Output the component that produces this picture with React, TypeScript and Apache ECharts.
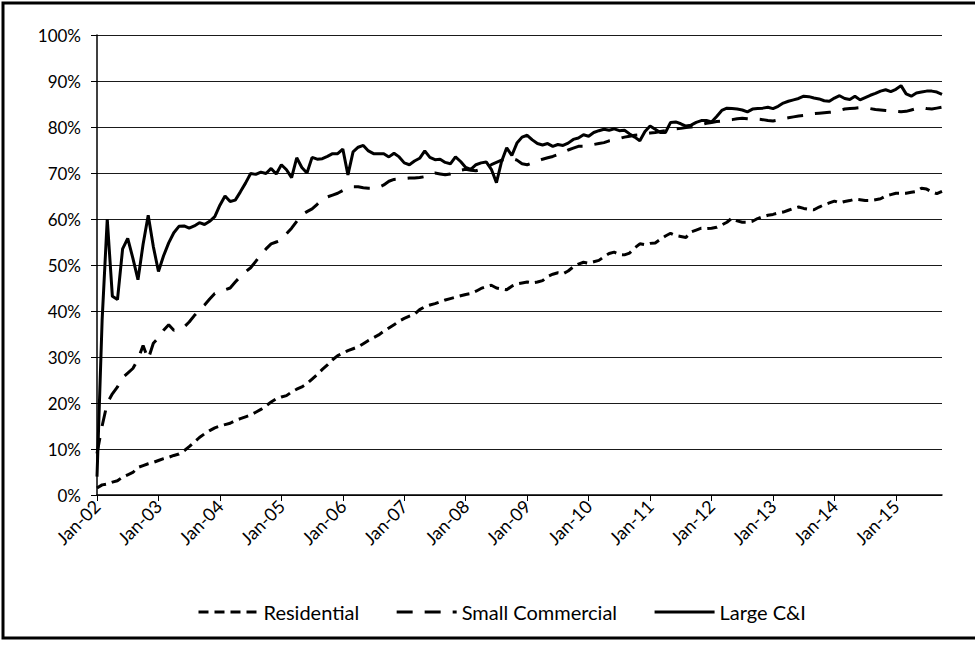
import React, { useEffect, useRef } from "react";
import * as echarts from "echarts";

// Month labels: Jan-02 ... Oct-15 (monthly)
const yearLabels = ["02", "03", "04", "05", "06", "07", "08", "09", "10", "11", "12", "13", "14", "15"];
const monthLabels = ["Jan", "Feb", "Mar", "Apr", "May", "Jun", "Jul", "Aug", "Sep", "Oct", "Nov", "Dec"];
const lastYearMonthCount = 10; // data runs through Oct-15

const categories: string[] = [];
yearLabels.forEach((y, yi) => {
  const n = yi === yearLabels.length - 1 ? lastYearMonthCount : 12;
  for (let m = 0; m < n; m++) categories.push(`${monthLabels[m]}-${y}`);
});

const seriesNames = ["Residential", "Small Commercial", "Large C&I"];

// Percent values
const residential = [
  1.5, 2.2, 2.4, 2.8, 3.1, 3.9, 4.4, 4.9, 6.0, 6.4,
  6.8, 7.1, 7.5, 7.9, 8.2, 8.6, 8.9, 9.6, 10.5, 11.5,
  12.5, 13.3, 14.0, 14.6, 15.0, 15.3, 15.6, 16.2, 16.6, 17.0,
  17.4, 18.0, 18.6, 19.4, 20.2, 20.9, 21.3, 21.6, 22.4, 23.0,
  23.5, 24.2, 25.2, 26.2, 27.3, 28.3, 29.4, 30.3, 30.8, 31.4,
  31.8, 32.2, 32.9, 33.6, 34.2, 34.8, 35.6, 36.3, 37.0, 37.8,
  38.4, 38.9, 39.3, 40.3, 40.9, 41.3, 41.6, 42.0, 42.4, 42.7,
  43.0, 43.3, 43.6, 43.8, 44.3, 44.9, 45.3, 45.6, 45.0, 44.8,
  44.6, 45.4, 45.9, 46.1, 46.3, 46.1, 46.3, 46.6, 47.5, 48.0,
  48.3, 48.1, 48.7, 49.6, 50.2, 50.6, 50.4, 50.7, 51.0, 51.8,
  52.5, 52.8, 52.3, 52.2, 52.6, 53.7, 54.6, 54.4, 54.7, 54.8,
  55.6, 56.3, 56.9, 56.4, 56.2, 56.0, 57.2, 57.6, 58.0, 57.9,
  58.0, 58.2, 58.7, 59.3, 60.2, 59.6, 59.3, 59.3, 59.5, 60.1,
  60.5, 60.8, 61.0, 61.3, 61.5, 61.9, 62.3, 62.6, 62.3, 62.1,
  62.0, 62.6, 63.1, 63.5, 63.9, 63.5, 63.8, 64.0, 64.3, 64.2,
  64.0, 64.0, 64.2, 64.4, 65.0, 65.3, 65.6, 65.6, 65.6, 65.8,
  66.0, 66.7, 66.5, 65.9, 65.5, 66.0,
];

const smallCommercial = [
  9.0, 15.0, 20.0, 22.0, 23.5, 25.5, 26.5, 27.5, 29.5, 32.5,
  29.5, 33.0, 34.2, 35.8, 37.0, 35.8, 36.0, 36.5, 37.6, 39.0,
  40.2, 41.3, 42.6, 43.8, 44.2, 44.6, 45.0, 46.3, 47.5, 48.5,
  49.4, 50.8, 52.2, 53.5, 54.6, 55.0, 55.4, 56.8, 58.0, 59.5,
  60.9, 61.6, 62.2, 63.2, 64.3, 64.8, 65.2, 65.6, 66.2, 66.6,
  67.0, 67.0, 66.8, 66.7, 66.7, 66.9, 67.4, 68.2, 68.6, 68.7,
  68.8, 68.9, 68.9, 69.0, 69.2, 69.5, 70.0, 69.8, 69.6, 69.8,
  70.2, 70.6, 70.8, 70.6, 70.5, 70.8, 71.2, 71.8, 72.3, 72.8,
  73.0, 73.2, 72.8, 72.0, 71.8, 72.2, 72.6, 73.0, 73.3, 73.6,
  74.0, 74.5, 75.0, 75.4, 75.8, 75.8, 75.9, 76.2, 76.4, 76.6,
  77.0, 77.2, 77.5, 77.8, 78.0, 78.2, 78.3, 78.5, 78.7, 78.8,
  79.0, 79.2, 79.4, 79.6, 79.7, 79.9, 80.0, 80.2, 80.5, 80.8,
  81.0, 81.2, 81.3, 81.5, 81.6, 81.8, 81.9, 81.8, 81.7, 81.7,
  81.6, 81.4, 81.3, 81.5, 81.8, 82.0, 82.2, 82.4, 82.5, 82.7,
  82.9, 83.0, 83.1, 83.2, 83.3, 83.6, 83.9, 84.0, 84.1, 84.2,
  84.1, 84.0, 83.8, 83.7, 83.6, 83.5, 83.4, 83.3, 83.4, 83.7,
  84.0, 84.2, 84.0, 83.9, 84.1, 84.3,
];

const largeCI = [
  4.0, 38.0, 60.0, 43.2, 42.5, 53.5, 55.8, 51.5, 46.8, 54.5,
  60.8, 54.0, 48.6, 52.0, 54.8, 57.0, 58.4, 58.5, 58.0, 58.5,
  59.2, 58.8, 59.5, 60.5, 63.0, 65.0, 63.8, 64.1, 65.9, 67.8,
  69.9, 69.7, 70.2, 69.9, 71.0, 69.8, 71.8, 70.7, 69.0, 73.3,
  71.2, 70.0, 73.4, 73.0, 73.1, 73.6, 74.2, 74.2, 75.2, 69.6,
  74.6, 75.6, 76.0, 74.8, 74.2, 74.2, 74.2, 73.5, 74.3, 73.5,
  72.2, 71.8, 72.6, 73.2, 74.8, 73.4, 72.9, 73.0, 72.3, 72.0,
  73.5, 72.5, 71.2, 70.8, 71.8, 72.2, 72.4, 70.8, 67.9, 72.5,
  75.5, 73.8, 76.5, 77.8, 78.2, 77.2, 76.4, 76.1, 76.4, 75.8,
  76.2, 76.0, 76.5, 77.3, 77.6, 78.3, 78.0, 78.8, 79.2, 79.5,
  79.3, 79.6, 79.2, 79.3, 78.5, 77.8, 77.0, 79.0, 80.2, 79.5,
  78.8, 78.8, 81.0, 81.1, 80.7, 80.2, 80.4, 81.0, 81.4, 81.4,
  81.1, 82.3, 83.6, 84.1, 84.0, 83.9, 83.7, 83.3, 83.9, 84.0,
  84.1, 84.3, 84.0, 84.5, 85.2, 85.6, 85.9, 86.2, 86.7, 86.6,
  86.3, 86.1, 85.7, 85.6, 86.3, 86.8, 86.2, 86.0, 86.7, 85.9,
  86.4, 86.9, 87.3, 87.8, 88.1, 87.7, 88.2, 89.0, 87.2, 86.7,
  87.4, 87.6, 87.8, 87.8, 87.6, 87.1,
];

const FONT = "Lato, 'Open Sans', sans-serif";

export default function App() {
  const ref = useRef<HTMLDivElement>(null);

  useEffect(() => {
    if (!ref.current) return;
    const chart = echarts.init(ref.current, undefined, { renderer: "svg" });
    const isJan = (i: number) => i % 12 === 0;

    chart.setOption({
      animation: false,
      backgroundColor: "#ffffff",
      textStyle: { fontFamily: FONT, color: "#000" },
      grid: { left: 97, right: 33, top: 35, bottom: 154, containLabel: false },
      graphic: [
        {
          type: "rect",
          silent: true,
          shape: { x: 3, y: 3, width: 985, height: 635 },
          style: { fill: "none", stroke: "#000", lineWidth: 3 },
        },
      ],
      legend: {
        data: seriesNames,
        left: 192,
        top: 597,
        itemWidth: 60,
        itemHeight: 14,
        itemGap: 36,
        itemStyle: { opacity: 0, borderWidth: 0 },
        lineStyle: { width: 3 },
        textStyle: { fontSize: 20, color: "#000", fontFamily: FONT },
      },
      xAxis: {
        type: "category",
        data: categories,
        boundaryGap: false,
        axisLine: { show: true, lineStyle: { color: "#000", width: 1.5 } },
        axisTick: { show: true, interval: (i: number) => isJan(i), length: 6, lineStyle: { color: "#000", width: 1 } },
        axisLabel: {
          interval: (i: number) => isJan(i),
          rotate: 45,
          fontSize: 18,
          color: "#000",
          margin: 8,
          fontFamily: FONT,
        },
        splitLine: { show: false },
      },
      yAxis: {
        type: "value",
        min: 0,
        max: 100,
        interval: 10,
        axisLine: { show: true, lineStyle: { color: "#000", width: 1.5 } },
        axisTick: { show: true, length: 6, lineStyle: { color: "#000", width: 1 } },
        axisLabel: { formatter: "{value}%", fontSize: 17, color: "#000", margin: 16, fontFamily: FONT },
        splitLine: { show: true, lineStyle: { color: "#1a1a1a", width: 1 } },
      },
      series: [
        {
          name: seriesNames[0],
          type: "line",
          data: residential,
          symbol: "none",
          lineStyle: { color: "#000", width: 3, type: [10, 6] },
          itemStyle: { color: "#000" },
        },
        {
          name: seriesNames[1],
          type: "line",
          data: smallCommercial,
          symbol: "none",
          lineStyle: { color: "#000", width: 3, type: [16, 12] },
          itemStyle: { color: "#000" },
        },
        {
          name: seriesNames[2],
          type: "line",
          data: largeCI,
          symbol: "none",
          lineStyle: { color: "#000", width: 3, type: "solid" },
          itemStyle: { color: "#000" },
        },
      ],
    });

    return () => chart.dispose();
  }, []);

  return (
    <div style={{ position: "absolute", left: 0, top: 0, width: 975, height: 649, background: "#fff" }}>
      <div ref={ref} style={{ width: 975, height: 649 }} />
    </div>
  );
}
